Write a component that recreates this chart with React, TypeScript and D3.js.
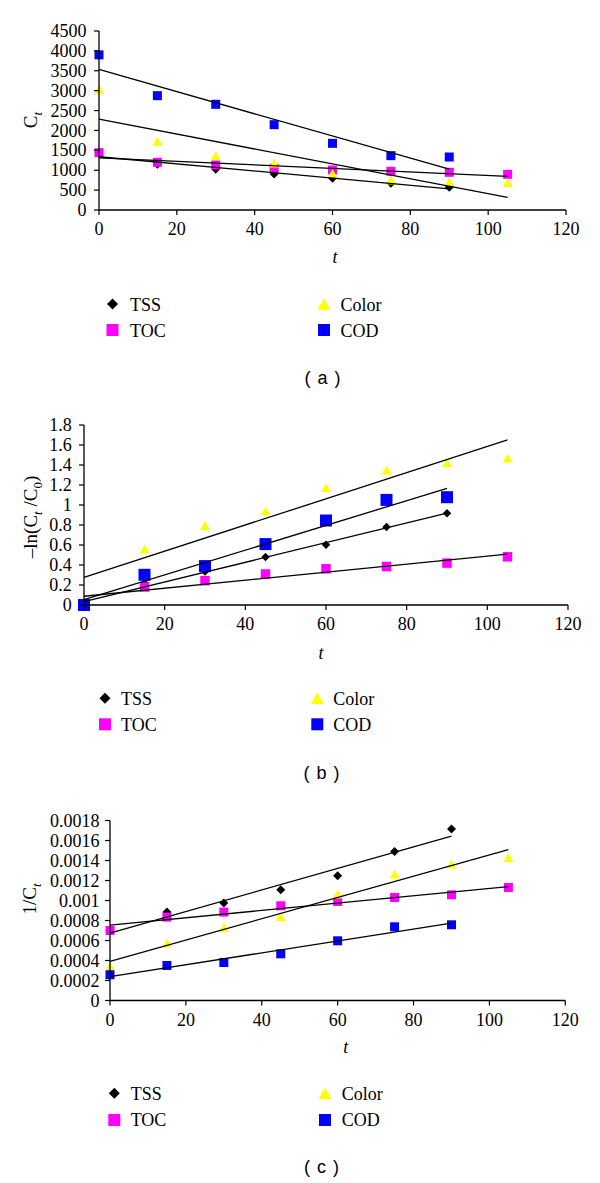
import React from "react";
import * as d3 from "d3";

// ---- data ----
const times = [0, 15, 30, 45, 60, 75, 90, 105];
const seriesNames = ["TSS", "TOC", "Color", "COD"];
const seriesColors = ["#000000", "#FF00FF", "#FFFF00", "#0000FF"];
const seriesShapes = ["diamond", "square", "triangle", "square"];

// panel (a): Ct
const aTSS = [1430, 1150, 1023, 905, 797, 671, 571];
const aTOC = [1441, 1199, 1131, 1048, 1006, 973, 947, 897];
const aColor = [3034, 1727, 1375, 1182, 922, 754, 712, 687];
const aCOD = [3900, 2874, 2657, 2145, 1676, 1366, 1332];

// panel (b): -ln(Ct/C0)
const bTSS = [0, 0.22, 0.335, 0.479, 0.602, 0.779, 0.918];
const bTOC = [0, 0.18, 0.243, 0.31, 0.362, 0.385, 0.419, 0.482];
const bColor = [0, 0.559, 0.795, 0.941, 1.174, 1.348, 1.424, 1.468];
const bCOD = [0, 0.302, 0.389, 0.609, 0.845, 1.051, 1.078];

// panel (c): 1/Ct
const cTSS = [0.0007, 0.000884, 0.000974, 0.001107, 0.001247, 0.00149, 0.001714];
const cTOC = [0.0007, 0.000834, 0.000884, 0.000947, 0.00099, 0.00103, 0.001057, 0.00113];
const cColor = [0.00034, 0.000574, 0.00073, 0.00084, 0.001064, 0.001264, 0.001364, 0.00143];
const cCOD = [0.000257, 0.00035, 0.00038, 0.000467, 0.000597, 0.000737, 0.000757];

const panelLabels = ["( a )", "( b )", "( c )"];
const xMax = 120;
const yMaxes = [4500, 1.8, 0.0018];

const SERIF = "'Liberation Serif', 'Times New Roman', serif";
const SANS = "'Liberation Sans', Arial, sans-serif";

function fit(ts: number[], ys: number[]) {
  const mt = d3.mean(ts) as number;
  const my = d3.mean(ys) as number;
  let num = 0, den = 0;
  ts.forEach((t, i) => { num += (t - mt) * (ys[i] - my); den += (t - mt) * (t - mt); });
  const slope = num / den;
  return { slope, intercept: my - slope * mt };
}

function markerPath(shape: string, s: number) {
  const h = s / 2;
  if (shape === "square") return `M${-h},${-h}h${s}v${s}h${-s}Z`;
  if (shape === "diamond") return `M0,${-h}L${h},0L0,${h}L${-h},0Z`;
  const th = s * 0.88;
  return `M0,${-th / 2}L${h},${th / 2}L${-h},${th / 2}Z`;
}

type Cfg = {
  data: number[][];
  yMax: number;
  x0: number; x1: number; y0: number; y1: number;
  sizes: number[];
  labelGap: number;
  yLabel: React.ReactNode;
  yLabelX: number; yLabelY: number;
  tX: number; tY: number;
  legX: [number, number]; legTextX: [number, number]; legY: [number, number];
  legBase: [number, number];
  capX: number; capY: number; cap: string;
};

function Panel({ cfg }: { cfg: Cfg }) {
  const x = d3.scaleLinear().domain([0, xMax]).range([cfg.x0, cfg.x1]);
  const y = d3.scaleLinear().domain([0, cfg.yMax]).range([cfg.y0, cfg.y1]);
  const xt = x.ticks(6);
  const yt = y.ticks(9);
  const fmt = (v: number) => String(+v.toPrecision(6));
  const lineGen = d3.line<[number, number]>().x(d => x(d[0])).y(d => y(d[1]));
  return (
    <g>
      {/* markers */}
      {cfg.data.map((vals, si) => (
        <g key={"m" + si}>
          {vals.map((v, i) => (
            <path key={i} d={markerPath(seriesShapes[si], cfg.sizes[si])}
              transform={`translate(${x(times[i])},${y(v)})`} fill={seriesColors[si]} />
          ))}
        </g>
      ))}
      {/* trend lines */}
      {cfg.data.map((vals, si) => {
        const ts = times.slice(0, vals.length);
        const f = fit(ts, vals);
        const tEnd = ts[ts.length - 1];
        const pts: [number, number][] = [[0, f.intercept], [tEnd, f.intercept + f.slope * tEnd]];
        return <path key={"l" + si} d={lineGen(pts) as string} stroke="#000" strokeWidth={1.3} fill="none" />;
      })}
      {/* axes */}
      <line x1={cfg.x0} x2={cfg.x0} y1={cfg.y0} y2={cfg.y1} stroke="#000" strokeWidth={1.3} />
      <line x1={cfg.x0} x2={cfg.x1} y1={cfg.y0} y2={cfg.y0} stroke="#000" strokeWidth={1.3} />
      {yt.map(v => (
        <g key={"yt" + v}>
          <line x1={cfg.x0 - 5} x2={cfg.x0} y1={y(v)} y2={y(v)} stroke="#000" strokeWidth={1.2} />
          <text x={cfg.x0 - cfg.labelGap} y={y(v)} dy="0.34em" textAnchor="end"
            fontFamily={SERIF} fontSize={18}>{fmt(v)}</text>
        </g>
      ))}
      {xt.map(v => (
        <g key={"xt" + v}>
          <line x1={x(v)} x2={x(v)} y1={cfg.y0} y2={cfg.y0 + 5} stroke="#000" strokeWidth={1.2} />
          <text x={x(v)} y={cfg.y0 + 25} textAnchor="middle" fontFamily={SERIF} fontSize={18}>{fmt(v)}</text>
        </g>
      ))}
      <text x={cfg.tX} y={cfg.tY} textAnchor="middle" fontFamily={SERIF} fontSize={18} fontStyle="italic">t</text>
      <text transform={`translate(${cfg.yLabelX},${cfg.yLabelY}) rotate(-90)`} textAnchor="middle"
        fontFamily={SERIF} fontSize={19}>{cfg.yLabel}</text>
      {/* legend */}
      {seriesNames.map((name, si) => {
        const col = si < 2 ? 0 : 1;
        const row = si % 2;
        const s = seriesShapes[si] === "diamond" ? 11 : seriesShapes[si] === "triangle" ? 13 : 12;
        return (
          <g key={"lg" + si}>
            <path d={markerPath(seriesShapes[si], s)} transform={`translate(${cfg.legX[col]},${cfg.legY[row]})`}
              fill={seriesColors[si]} />
            <text x={cfg.legTextX[col]} y={cfg.legBase[row]} fontFamily={SERIF} fontSize={18}>{name}</text>
          </g>
        );
      })}
      <text x={cfg.capX} y={cfg.capY} textAnchor="middle" fontFamily={SANS} fontSize={18}
        letterSpacing={1} style={{ whiteSpace: "pre" }}>{cfg.cap}</text>
    </g>
  );
}

export default function App() {
  const cfgs: Cfg[] = [
    {
      data: [aTSS, aTOC, aColor, aCOD], yMax: yMaxes[0],
      x0: 99, x1: 566, y0: 210, y1: 31, sizes: [9, 9, 10, 9], labelGap: 12.5,
      yLabel: <>C<tspan fontSize={13} dy={5} fontStyle="italic">t</tspan></>,
      yLabelX: 37, yLabelY: 120,
      tX: 335, tY: 263,
      legX: [112.5, 324], legTextX: [130, 340.5], legY: [304, 330], legBase: [311, 337],
      capX: 323, capY: 384, cap: panelLabels[0],
    },
    {
      data: [bTSS, bTOC, bColor, bCOD], yMax: yMaxes[1],
      x0: 84, x1: 568, y0: 605, y1: 425, sizes: [8.5, 9.5, 10, 12], labelGap: 12.3,
      yLabel: <>{"\u2013ln(C"}<tspan fontSize={13} dy={5} fontStyle="italic">t</tspan>
        <tspan dy={-5}>{" /C"}</tspan><tspan fontSize={13} dy={5}>0</tspan><tspan dy={-5}>)</tspan></>,
      yLabelX: 37, yLabelY: 517,
      tX: 321, tY: 659,
      legX: [105, 317.3], legTextX: [121, 333.3], legY: [698.3, 724.3], legBase: [704.5, 731],
      capX: 322, capY: 779, cap: panelLabels[1],
    },
    {
      data: [cTSS, cTOC, cColor, cCOD], yMax: yMaxes[2],
      x0: 110, x1: 565.3, y0: 1000.5, y1: 820.5, sizes: [9, 9, 10, 9], labelGap: 10.5,
      yLabel: <>{"1/C"}<tspan fontSize={13} dy={5} fontStyle="italic">t</tspan></>,
      yLabelX: 36, yLabelY: 899,
      tX: 345.7, tY: 1053,
      legX: [114.3, 325], legTextX: [130.7, 341.7], legY: [1093.3, 1120], legBase: [1100, 1126],
      capX: 322, capY: 1173, cap: panelLabels[2],
    },
  ];
  return (
    <svg width={600} height={1183} style={{ position: "absolute", left: 0, top: 0, background: "#fff" }}>
      <rect width={600} height={1183} fill="#fff" />
      {cfgs.map((c, i) => <Panel key={i} cfg={c} />)}
    </svg>
  );
}
